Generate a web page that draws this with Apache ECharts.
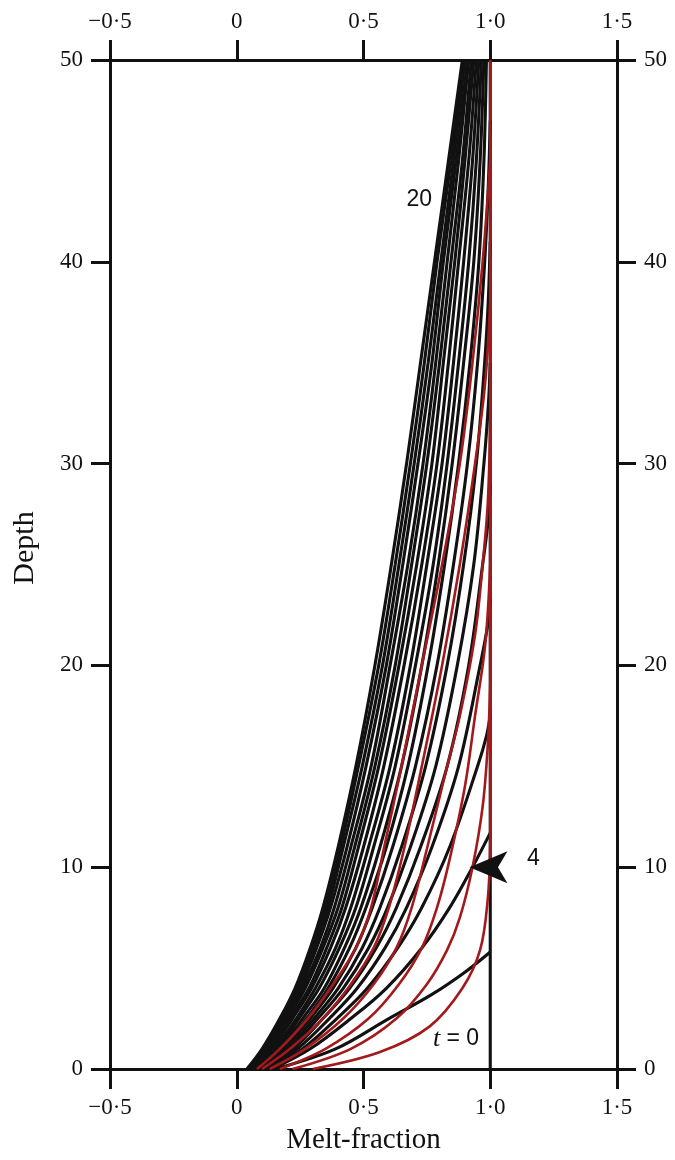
<!DOCTYPE html>
<html><head><meta charset="utf-8">
<script src="https://cdn.jsdelivr.net/npm/echarts@6/dist/echarts.min.js"></script>
<style>html,body{margin:0;padding:0;background:#fff}#c{width:675px;height:1160px}</style>
</head><body><div id="c"></div>
<script>
// ---- data (melt-fraction, depth) ----
const xTickValues = [-0.5, 0, 0.5, 1.0, 1.5];
const xTickLabels = ['\u22120\u00b75', '0', '0\u00b75', '1\u00b70', '1\u00b75'];
const yTickValues = [0, 10, 20, 30, 40, 50];
const yTickLabels = ['0', '10', '20', '30', '40', '50'];

// t = 0 : fully molten column
const black_t0 = [[1, 0], [1, 50]];
const black_t1 = [[0.15,0],[0.39,1],[0.6,2.5],[0.77,3.7],[0.9,4.8],[1.0,5.8]];
const black_t2 = [[0.14,0],[0.29,1],[0.45,2.5],[0.59,4],[0.73,6],[0.84,8],[0.93,10],[1.0,11.7]];
const black_t3 = [[0.13,0],[0.26,1],[0.395,2.5],[0.515,4],[0.635,6],[0.73,8],[0.84,11],[0.95,15],[0.985,16.5],[1.0,17.5]];
const black_t4 = [[0.12,0],[0.24,1],[0.365,2.5],[0.475,4],[0.585,6],[0.67,8],[0.77,11],[0.875,15],[0.96,20],[0.99,22],[1.0,23.3]];
const black_t5 = [[0.11,0],[0.225,1],[0.34,2.5],[0.445,4],[0.55,6],[0.63,8],[0.725,11],[0.83,15],[0.915,20],[0.97,25],[0.99,27],[1.0,29]];
const black_t6 = [[0.105,0],[0.21,1],[0.32,2.5],[0.42,4],[0.52,6],[0.595,8],[0.685,11],[0.785,15],[0.87,20],[0.935,25],[0.975,30],[0.993,33],[1.0,35]];
const black_t7 = [[0.10,0],[0.20,1],[0.305,2.5],[0.40,4],[0.495,6],[0.565,8],[0.65,11],[0.745,15],[0.83,20],[0.895,25],[0.945,30],[0.978,35],[0.992,38],[1.0,41]];
const black_t8 = [[0.095,0],[0.19,1],[0.29,2.5],[0.38,4],[0.47,6],[0.535,8],[0.615,11],[0.705,15],[0.79,20],[0.855,25],[0.91,30],[0.95,35],[0.978,40],[0.993,44],[1.0,47]];
const black_t9 = [[0.09,0],[0.18,1],[0.275,2.5],[0.36,4],[0.445,6],[0.51,8],[0.59,11],[0.675,15],[0.755,20],[0.82,25],[0.875,30],[0.92,35],[0.955,40],[0.975,45],[0.985,50]];
const black_t10 = [[0.085,0],[0.17,1],[0.26,2.5],[0.345,4],[0.425,6],[0.49,8],[0.565,11],[0.65,15],[0.73,20],[0.795,25],[0.85,30],[0.895,35],[0.935,40],[0.96,45],[0.975,50]];
const black_t11 = [[0.08,0],[0.16,1],[0.245,2.5],[0.325,4],[0.405,6],[0.47,8],[0.54,11],[0.625,15],[0.705,20],[0.775,25],[0.83,30],[0.875,35],[0.915,40],[0.945,45],[0.965,50]];
const black_t12 = [[0.075,0],[0.15,1],[0.235,2.5],[0.31,4],[0.39,6],[0.45,8],[0.52,11],[0.605,15],[0.685,20],[0.75,25],[0.81,30],[0.855,35],[0.895,40],[0.93,45],[0.955,50]];
const black_t13 = [[0.07,0],[0.14,1],[0.22,2.5],[0.295,4],[0.37,6],[0.43,8],[0.50,11],[0.58,15],[0.66,20],[0.73,25],[0.79,30],[0.835,35],[0.875,40],[0.915,45],[0.945,50]];
const black_t14 = [[0.065,0],[0.135,1],[0.21,2.5],[0.285,4],[0.355,6],[0.415,8],[0.48,11],[0.56,15],[0.64,20],[0.71,25],[0.77,30],[0.815,35],[0.86,40],[0.90,45],[0.935,50]];
const black_t15 = [[0.06,0],[0.13,1],[0.20,2.5],[0.27,4],[0.34,6],[0.40,8],[0.465,11],[0.545,15],[0.625,20],[0.69,25],[0.75,30],[0.80,35],[0.845,40],[0.89,45],[0.925,50]];
const black_t16 = [[0.055,0],[0.12,1],[0.195,2.5],[0.26,4],[0.33,6],[0.385,8],[0.45,11],[0.53,15],[0.605,20],[0.675,25],[0.735,30],[0.785,35],[0.83,40],[0.875,45],[0.915,50]];
const black_t17 = [[0.05,0],[0.115,1],[0.185,2.5],[0.25,4],[0.315,6],[0.37,8],[0.435,11],[0.51,15],[0.59,20],[0.655,25],[0.715,30],[0.77,35],[0.815,40],[0.865,45],[0.91,50]];
const black_t18 = [[0.05,0],[0.11,1],[0.18,2.5],[0.245,4],[0.305,6],[0.36,8],[0.42,11],[0.495,15],[0.575,20],[0.64,25],[0.70,30],[0.755,35],[0.805,40],[0.855,45],[0.90,50]];
const black_t19 = [[0.045,0],[0.105,1],[0.175,2.5],[0.235,4],[0.295,6],[0.35,8],[0.41,11],[0.48,15],[0.56,20],[0.625,25],[0.685,30],[0.74,35],[0.79,40],[0.845,45],[0.895,50]];
const black_t20 = [[0.04,0],[0.10,1],[0.17,2.5],[0.23,4],[0.29,6],[0.34,8],[0.40,11],[0.47,15],[0.545,20],[0.61,25],[0.67,30],[0.725,35],[0.78,40],[0.835,45],[0.89,50]];

const red_r1 = [[0.30,0],[0.565,0.84],[0.76,2.1],[0.89,4.0],[0.96,5.9],[0.99,8.4],[1.0,11]];
const red_r2 = [[0.22,0],[0.45,1],[0.63,2.5],[0.75,4.2],[0.83,5.9],[0.88,7.5],[0.93,10],[0.97,13],[0.99,16],[1.0,19]];
const red_r3 = [[0.17,0],[0.35,1],[0.52,2.5],[0.64,4.2],[0.73,6],[0.79,8],[0.84,10.4],[0.90,14],[0.94,17.5],[0.98,21],[1.0,25]];
const red_r4 = [[0.13,0],[0.27,1],[0.42,2.5],[0.54,4.2],[0.63,6],[0.69,8],[0.75,10.9],[0.82,14.5],[0.88,17.5],[0.94,21.5],[0.97,25],[0.99,28],[1.0,32]];
const red_r5 = [[0.10,0],[0.21,1],[0.34,2.5],[0.45,4.2],[0.54,6],[0.60,8],[0.66,10.9],[0.73,15],[0.81,20],[0.88,25],[0.94,30],[0.98,34],[1.0,38]];
const red_r6 = [[0.08,0],[0.17,1],[0.28,2.5],[0.38,4.2],[0.47,6],[0.53,8],[0.58,10.9],[0.65,15],[0.73,20],[0.81,25],[0.88,30],[0.93,35],[0.97,40],[1.0,45]];
const red_vertical = [[1, 10], [1, 50]];

const annotations = [
  {text: '20', coord: [0.72, 43.1]},
  {text: '4', coord: [1.17, 10.4]},
  {text: 't = 0', coord: [0.865, 1.5]}
];
const arrowAt = [0.918, 10];

// ---- chart ----
const blackCurves = [black_t0, black_t1, black_t2, black_t3, black_t4, black_t5, black_t6, black_t7,
  black_t8, black_t9, black_t10, black_t11, black_t12, black_t13, black_t14, black_t15, black_t16,
  black_t17, black_t18, black_t19, black_t20];
const redCurves = [red_r1, red_r2, red_r3, red_r4, red_r5, red_r6, red_vertical];

const BLACK = '#111111', RED = '#a31a1d';
const serif = 'Liberation Serif';
function xLabel(v) { const i = xTickValues.findIndex(t => Math.abs(t - v) < 1e-9); return i >= 0 ? xTickLabels[i] : ''; }
function yLabel(v) { const i = yTickValues.findIndex(t => Math.abs(t - v) < 1e-9); return i >= 0 ? yTickLabels[i] : ''; }

const axisCommonX = {
  type: 'value', min: -0.5, max: 1.5, interval: 0.5,
  axisLine: {show: true, onZero: false, lineStyle: {color: BLACK, width: 3}},
  axisTick: {show: true, inside: false, length: 20, lineStyle: {color: BLACK, width: 3}},
  axisLabel: {formatter: xLabel, fontFamily: serif, fontSize: 23, color: BLACK, margin: 27},
  splitLine: {show: false}
};
const axisCommonY = {
  type: 'value', min: 0, max: 50, interval: 10,
  axisLine: {show: true, onZero: false, lineStyle: {color: BLACK, width: 3}},
  axisTick: {show: true, inside: false, length: 19, lineStyle: {color: BLACK, width: 3}},
  axisLabel: {formatter: yLabel, fontFamily: serif, fontSize: 23, color: BLACK, margin: 27},
  splitLine: {show: false}
};

const series = [];
redCurves.forEach((d) => series.push({
  type: 'line', data: d, smooth: 0.35, symbol: 'none', z: 3,
  lineStyle: {color: RED, width: 2.6}, silent: true
}));
blackCurves.forEach((d) => series.push({
  type: 'line', data: d, smooth: 0.35, symbol: 'none', z: 2,
  lineStyle: {color: BLACK, width: 3.1}, silent: true
}));
// annotations
series.push({
  type: 'scatter', data: [], silent: true,
  markPoint: {
    silent: true,
    data: annotations.map(a => ({coord: a.coord, value: a.text, symbol: 'circle', symbolSize: 0}))
      .concat([{coord: arrowAt, value: '', symbol: 'arrow', symbolSize: [24, 38], symbolRotate: 90,
        itemStyle: {color: BLACK}, label: {show: false}}]),
    label: {
      show: true, position: 'inside', color: BLACK, fontSize: 23, fontFamily: 'Liberation Sans',
      formatter: p => p.value === 't = 0' ? '{i|t} = 0' : p.value,
      rich: {i: {fontFamily: serif, fontStyle: 'italic', fontSize: 26, color: BLACK}}
    }
  }
});

const chart = echarts.init(document.getElementById('c'), null, {renderer: 'canvas'});
chart.setOption({
  animation: false,
  backgroundColor: '#ffffff',
  grid: {left: 110, right: 58, top: 60, bottom: 90, containLabel: false},
  xAxis: [
    Object.assign({}, axisCommonX, {position: 'bottom', name: 'Melt-fraction', nameLocation: 'middle', nameGap: 57,
      nameTextStyle: {fontFamily: serif, fontSize: 29, color: BLACK}}),
    Object.assign({}, axisCommonX, {position: 'top'})
  ],
  yAxis: [
    Object.assign({}, axisCommonY, {position: 'left'}),
    Object.assign({}, axisCommonY, {position: 'right'})
  ],
  graphic: [{
    type: 'text', x: 25, y: 548, rotation: Math.PI / 2, silent: true,
    style: {text: 'Depth', fontFamily: serif, fontSize: 30, fill: BLACK, align: 'center', verticalAlign: 'middle'}
  }],
  series: series
});
</script></body></html>
